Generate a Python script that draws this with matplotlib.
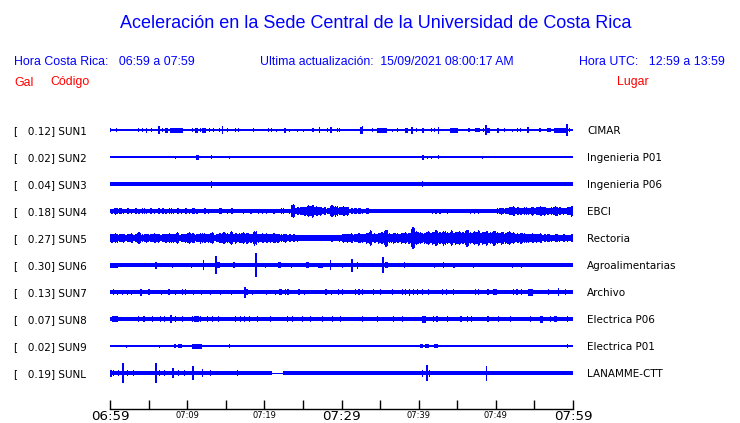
import matplotlib.pyplot as plt
from matplotlib.transforms import blended_transform_factory

# estaciones
codes = ["SUN1", "SUN2", "SUN3", "SUN4", "SUN5", "SUN6", "SUN7", "SUN8", "SUN9", "SUNL"]
peaks = [0.12, 0.02, 0.04, 0.18, 0.27, 0.30, 0.13, 0.07, 0.02, 0.19]
places = ["CIMAR", "Ingenieria P01", "Ingenieria P06", "EBCI", "Rectoria",
          "Agroalimentarias", "Archivo", "Electrica P06", "Electrica P01", "LANAMME-CTT"]

# nivel de fondo de cada traza (semi-amplitud)
base_amp = [0.7, 0.6, 2.0, 1.9, 3.0, 2.0, 2.0, 2.2, 0.6, 2.0]
# tramos casi planos (min inicio, min fin)
quiet_spans = {"SUNL": [(21.0, 22.4)]}

# eventos: (minuto, duracion, semi-amplitud)
sun1_events = [(0.0, .15, 2), (0.78, .15, 2), (3.63, .15, 2), (4.15, .15, 2), (4.67, .15, 2.5),
               (5.31, .15, 2), (6.22, .2, 4), (6.74, .15, 2), (7.13, .4, 2.5), (7.78, 1.7, 2.5),
               (10.63, .15, 2), (11.02, .4, 2.5), (11.66, .15, 2), (11.92, .5, 2.5), (12.83, .15, 2),
               (13.35, .15, 2), (14.12, .15, 2), (14.51, .15, 4), (15.16, .15, 2), (16.2, .15, 2),
               (16.59, .15, 2), (18.53, .15, 2), (20.47, .15, 2), (20.86, .15, 2), (21.51, .15, 1.5),
               (22.55, .3, 2.5), (23.2, .15, 1.5), (24.23, .15, 1.5), (25.01, .15, 1.5), (26.18, .3, 2),
               (27.09, .15, 3), (28.12, .15, 2), (28.51, .3, 3), (29.42, .15, 2), (29.68, .15, 2),
               (32.4, .4, 3.5), (32.66, .15, 4), (33.96, .15, 2), (34.61, 1.3, 2.5), (36.55, .15, 1.5),
               (37.19, .15, 2), (38.23, .4, 2.5), (39.01, .2, 3.5), (39.66, .15, 2), (40.43, .3, 2.5),
               (41.6, .15, 2), (41.99, .15, 2), (42.51, .15, 3.5), (44.06, 1.0, 2.5), (46.4, .3, 2),
               (47.3, .6, 2), (48.34, .15, 2), (48.6, .2, 5), (48.86, .4, 2.5), (50.16, .3, 2.5),
               (51.06, .15, 2), (52.1, .15, 1.5), (52.75, .15, 2), (53.14, .15, 2), (54.04, .2, 3),
               (55.6, .3, 2), (56.64, .5, 2), (57.56, 1.6, 2.5), (59.12, .2, 6), (59.5, .15, 2)]
sun2_events = [(8.42, .15, 1.5), (11.15, .4, 2.5), (13.09, .15, 2), (15.42, .15, 1.5),
               (40.43, .3, 2.5), (41.08, .15, 1.5), (41.6, .15, 1.5), (42.51, .15, 2), (48.21, .15, 1.5)]
sun3_events = [(13.09, .15, 3.5), (40.43, .15, 3)]
sun6_events = [(0.0, 1.0, 2.5), (5.83, .2, 3.5), (8.0, .15, 2.5), (10.5, .15, 2.5), (12.05, .15, 5),
               (13.61, .2, 9), (13.87, .4, 3), (15.94, .3, 3), (18.79, .2, 12), (20.09, .15, 2.5),
               (21.77, .4, 3), (23.5, .15, 2.5), (25.4, .4, 3), (27.0, .6, 2.5), (28.51, .15, 5),
               (30.07, .15, 2.5), (31.23, .2, 6.5), (32.01, .15, 3.5), (35.25, .2, 8), (35.64, .4, 3),
               (38.1, .15, 3), (41.99, .15, 2.5), (43.15, .15, 3), (44.5, .15, 2.5), (47.0, .15, 2.5),
               (52.09, .15, 2.5), (53.26, .15, 2.5), (59.22, .15, 2)]
sun7_events = [(0.39, .15, 3), (0.9, .15, 2.5), (1.55, .15, 2.5), (2.2, .15, 2.5), (2.7, .15, 2.5),
               (3.89, .3, 3.5), (4.92, .3, 3), (6.6, .15, 2.5), (7.5, .3, 3), (8.4, .15, 2.5),
               (9.3, .15, 3), (9.7, .15, 3), (10.76, .15, 2.5), (11.8, .15, 2.5), (12.96, .15, 2.5),
               (14.25, .15, 2.5), (15.68, .15, 2.5), (17.36, .2, 5.5), (17.6, .3, 3), (18.4, .15, 2.5),
               (20.2, .15, 2.5), (21.4, .15, 2.5), (21.9, .4, 3), (22.7, .15, 3), (23.0, .15, 3),
               (24.36, .2, 3), (25.1, .15, 2.5), (27.86, .2, 3), (28.6, .15, 2.5), (29.5, .15, 3),
               (30.1, .15, 3), (31.7, .15, 3), (32.2, .15, 3), (32.7, .15, 3), (34.1, .15, 3),
               (35.0, .15, 3), (36.5, .15, 3), (37.8, .15, 3), (38.2, .15, 3), (38.7, .15, 3.5),
               (39.3, .15, 3), (39.8, .15, 3), (40.4, .15, 3), (41.2, .15, 3), (43.0, .15, 3),
               (43.5, .15, 3), (44.4, .15, 3), (47.3, .15, 3), (47.7, .15, 3), (48.9, .15, 3),
               (49.6, .5, 3), (52.2, .15, 3), (52.6, .3, 3), (53.2, .15, 3), (54.2, .6, 3.5),
               (56.8, .15, 3), (58.05, .2, 4), (59.0, .15, 3)]
sun8_events = [(0.26, .8, 3), (3.6, .15, 2.8), (4.3, .2, 3), (5.4, .15, 2.8), (6.5, .15, 2.8),
               (7.0, .15, 2.8), (7.8, .2, 4), (8.4, .2, 3), (9.3, .15, 2.8), (10.6, .15, 3),
               (10.9, .6, 3), (11.7, .15, 3), (12.6, .15, 2.8), (13.2, .2, 3), (14.0, .15, 2.8),
               (16.2, .15, 2.8), (16.8, .15, 2.8), (17.4, .15, 2.8), (18.0, .15, 2.8), (19.0, .15, 2.8),
               (20.7, .15, 2.8), (22.9, .15, 2.8), (23.6, .15, 2.8), (24.9, .15, 2.8), (25.9, .15, 2.8),
               (27.5, .15, 2.8), (28.8, .15, 2.8), (29.8, .15, 2.8), (32.7, .15, 2.8), (34.6, .15, 2.8),
               (36.7, .15, 2.8), (37.8, .15, 2.8), (40.4, .6, 3.5), (41.9, .15, 2.8), (42.3, .15, 2.8),
               (43.7, .15, 2.8), (45.4, .2, 3), (46.3, .15, 2.8), (46.8, .15, 2.8), (48.9, .15, 2.8),
               (50.3, .15, 2.8), (51.8, .15, 2.8), (54.4, .15, 2.8), (55.7, .4, 3.5), (57.0, .15, 3),
               (57.5, .4, 3), (59.2, .15, 2.8)]
sun9_events = [(2.07, .15, 1.5), (6.35, .15, 1.5), (8.3, .3, 2), (8.8, .5, 2), (10.6, 1.3, 2.5),
               (15.4, .15, 2), (40.2, .3, 2), (40.8, .6, 2), (42.0, .5, 2), (59.2, .15, 2)]
sunl_events = [(0.0, .2, 3.5), (0.4, .15, 2.8), (1.0, .15, 2.8), (1.55, .2, 10), (2.2, .15, 2.8),
               (3.0, .15, 2.8), (5.83, .2, 10), (6.3, .15, 2.8), (7.0, .15, 2.8), (8.03, .3, 5),
               (8.8, .15, 2.8), (9.6, .15, 2.8), (10.63, .2, 7), (11.9, .2, 4), (13.0, .15, 2.8),
               (16.5, .15, 2.8), (40.4, .15, 3.5), (40.95, .2, 8), (41.3, .15, 3.5), (48.7, .2, 7.5)]

# envolventes de SUN4 y SUN5 cada medio minuto
sun4_env = [2.5, 3.5, 3, 2.5, 3, 2.5, 3, 2.5, 3, 2.5,
            3, 2.5, 3, 3, 2.5, 3, 2.5, 3, 2.5, 3,
            2.5, 3, 2.5, 2, 3, 2.5, 2, 2, 3, 2,
            2.5, 3, 2, 2, 2.5, 2, 2.5, 2, 2.5, 2.5,
            2.5, 2, 2.5, 2, 3, 2, 2.5, 7, 4, 4,
            4.5, 6, 6.5, 5, 4.5, 4, 3, 6, 5.5, 4,
            5, 4.5, 3, 3, 3, 2.5, 3, 2, 1.7, 1.7,
            1.7, 1.7, 1.7, 1.7, 1.7, 1.7, 1.7, 1.7, 1.7, 1.7,
            1.7, 1.7, 1.7, 2.5, 2.5, 2.5, 1.7, 2.5, 1.7, 1.7,
            1.7, 1.7, 1.7, 2.5, 2.5, 2.5, 1.7, 1.7, 1.7, 1.7,
            3, 3.5, 3, 4, 5, 4, 3.5, 4, 3.5, 4.5,
            4, 5, 4.5, 3.5, 4, 5, 4, 3.5, 4, 5.5]
sun5_env = [4.5, 5, 4, 4.5, 4, 5, 4, 6, 4, 4.5,
            4, 5, 4.5, 4, 4.5, 5, 4.5, 6, 4, 4.5,
            6, 5, 4, 5.5, 5, 4.5, 6, 4, 5, 6,
            5, 7, 5.5, 5, 6, 5.5, 4.5, 7.5, 4.5, 5,
            5, 4.5, 5, 4.5, 4, 4.5, 4, 4, 3.5, 3,
            3, 3, 3, 3, 3, 3, 3, 3.5, 3, 3.5,
            4.5, 4.5, 5, 4, 5, 4.5, 5.5, 8, 5, 5.5,
            6, 8.5, 5, 5.5, 5, 5.5, 6, 5.5, 11, 7,
            6, 5.5, 7, 6.5, 8, 6, 7.5, 6, 8, 6.5,
            7, 6, 8.5, 6, 7, 8, 6.5, 7.5, 6, 7.5,
            6, 6.5, 5.5, 7, 6, 5, 5.5, 5, 4.5, 5,
            4.5, 5, 4, 4, 3.5, 4, 3.5, 4, 3.5, 4]

events = {"SUN1": sun1_events, "SUN2": sun2_events, "SUN3": sun3_events, "SUN6": sun6_events,
          "SUN7": sun7_events, "SUN8": sun8_events, "SUN9": sun9_events, "SUNL": sunl_events}
envelopes = {"SUN4": sun4_env, "SUN5": sun5_env}

tick_minutes = list(range(0, 61, 5))
label_minutes = [0, 10, 20, 30, 40, 50, 60]
label_text = ["06:59", "07:09", "07:19", "07:29", "07:39", "07:49", "07:59"]
big_labels = ["06:59", "07:29", "07:59"]

BLUE = "#0000ff"
px = 1 / 27  # semi-amplitud en pixeles -> unidades de fila

fig = plt.figure(figsize=(7.4, 4.23), dpi=100)
fig.patch.set_facecolor("white")

W, H = 740, 423
ax = fig.add_axes([110 / W, 14 / H, 463 / W, 294 / H])
ax.set_xlim(0, 60)
ax.set_ylim(10.333, -0.556)

for i, code in enumerate(codes):
    b = base_amp[i] * px
    spans = quiet_spans.get(code, [])
    edges = [0]
    for s0, s1 in spans:
        edges += [s0, s1]
    edges.append(60)
    for k in range(0, len(edges), 2):
        ax.fill_between([edges[k], edges[k + 1]], i - b, i + b, color=BLUE, lw=0)
    for s0, s1 in spans:
        ax.fill_between([s0, s1], i - 0.5 * px, i + 0.5 * px, color=BLUE, lw=0)
    if code in envelopes:
        env = envelopes[code]
        t = [0.5 * k for k in range(len(env))]
        # banda ancha (80 %) + trazos finos con el pico
        wide = [0.8 * e * px for e in env]
        ax.bar(t, [2 * v for v in wide], bottom=[i - v for v in wide], width=0.5,
               align="edge", color=BLUE, lw=0)
        peak = [e * px for e in env]
        ax.bar([v + 0.18 for v in t], [2 * v for v in peak], bottom=[i - v for v in peak],
               width=0.16, align="edge", color=BLUE, lw=0)
        ax.bar([v + 0.36 for v in t], [1.8 * v for v in peak], bottom=[i - 0.9 * v for v in peak],
               width=0.14, align="edge", color=BLUE, lw=0)
    for t0, dur, amp in events.get(code, []):
        ax.bar(t0, 2 * amp * px, bottom=i - amp * px, width=dur, align="edge",
               color=BLUE, lw=0)

for side in ["top", "left", "right"]:
    ax.spines[side].set_visible(False)
ax.spines["bottom"].set_linewidth(1.0)
ax.set_yticks([])
ax.set_xticks(tick_minutes)
ax.set_xticklabels([])
ax.tick_params(axis="x", direction="in", length=6.5, width=1.0, color="black")

tr = blended_transform_factory(ax.transData, fig.transFigure)
for m, lab in zip(label_minutes, label_text):
    if lab in big_labels:
        fig.text(m, 1 - 419.6 / H, lab, transform=tr, fontsize=9.6, ha="center",
                 va="baseline", family="DejaVu Sans")
    else:
        fig.text(m, 1 - 418.3 / H, lab, transform=tr, fontsize=6, ha="center",
                 va="baseline", family="DejaVu Sans")

# etiquetas de cada traza (alineadas por la linea base)
for i, code in enumerate(codes):
    y = 1 - (130 + 27 * i + 3.8) / H
    fig.text(14 / W, y, f"[   {peaks[i]:.2f}] {code}", fontsize=7.5, ha="left", va="baseline",
             family="DejaVu Sans", color="black")
    fig.text(587 / W, y, places[i], fontsize=7.5, ha="left", va="baseline",
             family="DejaVu Sans", color="black")

# encabezado
hf = "Liberation Sans"
fig.text(376 / W, 1 - 28.5 / H, "Aceleración en la Sede Central de la Universidad de Costa Rica",
         fontsize=13, color=BLUE, ha="center", va="baseline", family=hf)
fig.text(14 / W, 1 - 65.3 / H, "Hora Costa Rica:   06:59 a 07:59", fontsize=8.9, color=BLUE,
         ha="left", va="baseline", family=hf)
fig.text(260 / W, 1 - 65.3 / H, "Ultima actualización:  15/09/2021 08:00:17 AM", fontsize=8.8,
         color=BLUE, ha="left", va="baseline", family=hf)
fig.text(725 / W, 1 - 65.3 / H, "Hora UTC:   12:59 a 13:59", fontsize=8.9, color=BLUE,
         ha="right", va="baseline", family=hf)
fig.text(14 / W, 1 - 85.5 / H, "Gal", fontsize=8.9, color="red", ha="left", va="baseline", family=hf)
fig.text(50 / W, 1 - 85.5 / H, "Código", fontsize=8.9, color="red", ha="left", va="baseline", family=hf)
fig.text(649 / W, 1 - 85.5 / H, "Lugar", fontsize=8.9, color="red", ha="right", va="baseline", family=hf)

fig.savefig("out.png", dpi=100)
